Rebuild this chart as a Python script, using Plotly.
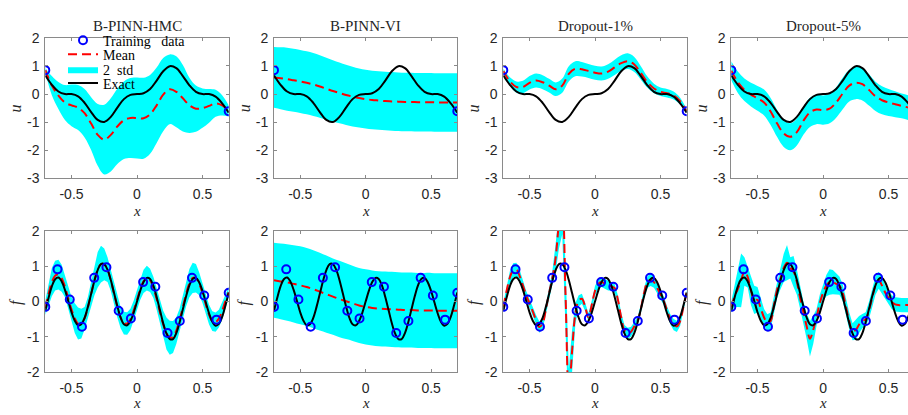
import plotly.graph_objects as go

W, H = 908, 415

# ---------------------------------------------------------------- grids
x_u = [-0.70, -0.65, -0.60, -0.55, -0.50, -0.45, -0.40, -0.35, -0.30, -0.25,
       -0.20, -0.15, -0.10, -0.05, 0.00, 0.05, 0.10, 0.15, 0.20, 0.25,
       0.30, 0.35, 0.40, 0.45, 0.50, 0.55, 0.60, 0.65, 0.70]

x_f = [-0.700, -0.675, -0.650, -0.625, -0.600, -0.575, -0.550, -0.525, -0.500, -0.475,
       -0.450, -0.425, -0.400, -0.375, -0.350, -0.325, -0.300, -0.275, -0.250, -0.225,
       -0.200, -0.175, -0.150, -0.125, -0.100, -0.075, -0.050, -0.025, 0.000, 0.025,
       0.050, 0.075, 0.100, 0.125, 0.150, 0.175, 0.200, 0.225, 0.250, 0.275,
       0.300, 0.325, 0.350, 0.375, 0.400, 0.425, 0.450, 0.475, 0.500, 0.525,
       0.550, 0.575, 0.600, 0.625, 0.650, 0.675, 0.700]

# ---------------------------------------------------------------- reference solution
u_exact = [0.66, 0.33, 0.09, 0.00, 0.00, -0.08, -0.31, -0.64, -0.92, -0.99,
           -0.81, -0.48, -0.18, -0.03, 0.00, 0.03, 0.18, 0.48, 0.81, 0.99,
           0.92, 0.64, 0.31, 0.08, 0.00, 0.00, -0.09, -0.33, -0.66]

f_exact = [-0.26, 0.11, 0.43, 0.63, 0.68, 0.57, 0.33, 0.02, -0.30, -0.54,
           -0.67, -0.64, -0.46, -0.15, 0.22, 0.59, 0.89, 1.06, 1.06, 0.90,
           0.61, 0.24, -0.13, -0.45, -0.64, -0.67, -0.55, -0.31, 0.00, 0.31,
           0.55, 0.67, 0.64, 0.45, 0.13, -0.24, -0.61, -0.90, -1.06, -1.06,
           -0.89, -0.59, -0.22, 0.15, 0.46, 0.64, 0.67, 0.54, 0.30, -0.02,
           -0.33, -0.57, -0.68, -0.63, -0.43, -0.11, 0.26]

# ---------------------------------------------------------------- noisy training data
x_bc = [-0.7, 0.7]
u_bc = [0.85, -0.61]

x_obs = [-0.7, -0.6067, -0.5133, -0.42, -0.3267, -0.2333, -0.14, -0.0467,
         0.0467, 0.14, 0.2333, 0.3267, 0.42, 0.5133, 0.6067, 0.7]
f_obs = [-0.15, 0.91, 0.06, -0.71, 0.67, 0.97, -0.26, -0.48,
         0.55, 0.42, -0.89, -0.55, 0.67, 0.17, -0.51, 0.25]

# ---------------------------------------------------------------- predictions: u
hmc_u_mean = [0.85, 0.30, -0.05, -0.30, -0.40, -0.48, -0.68, -1.05, -1.45, -1.62,
              -1.45, -1.15, -0.93, -0.85, -0.85, -0.86, -0.72, -0.40, -0.02, 0.17,
              0.08, -0.15, -0.40, -0.52, -0.50, -0.42, -0.33, -0.40, -0.60]
hmc_u_std = [0.04, 0.17, 0.24, 0.31, 0.37, 0.40, 0.43, 0.47, 0.55, 0.62,
             0.65, 0.67, 0.69, 0.71, 0.72, 0.72, 0.70, 0.67, 0.65, 0.62,
             0.63, 0.59, 0.49, 0.41, 0.35, 0.30, 0.24, 0.18, 0.10]

vi_u_mean = [0.59, 0.56, 0.53, 0.49, 0.45, 0.40, 0.34, 0.27, 0.19, 0.11,
             0.04, -0.03, -0.09, -0.14, -0.18, -0.21, -0.23, -0.25, -0.26, -0.27,
             -0.28, -0.28, -0.29, -0.29, -0.29, -0.30, -0.30, -0.30, -0.30]
vi_u_std = [0.54, 0.55, 0.56, 0.56, 0.56, 0.56, 0.56, 0.555, 0.55, 0.545,
            0.54, 0.535, 0.53, 0.525, 0.52, 0.52, 0.52, 0.52, 0.52, 0.52,
            0.52, 0.52, 0.52, 0.52, 0.52, 0.52, 0.52, 0.52, 0.52]

d1_u_mean = [0.82, 0.45, 0.25, 0.25, 0.40, 0.48, 0.42, 0.30, 0.17, 0.30,
             0.72, 0.90, 0.88, 0.82, 0.76, 0.73, 0.80, 0.95, 1.10, 1.17,
             1.05, 0.75, 0.42, 0.20, 0.08, 0.03, -0.05, -0.25, -0.60]
d1_u_std = [0.04, 0.075, 0.10, 0.11, 0.12, 0.125, 0.125, 0.12, 0.12, 0.125,
            0.135, 0.135, 0.13, 0.125, 0.125, 0.125, 0.13, 0.135, 0.14, 0.14,
            0.135, 0.12, 0.10, 0.085, 0.075, 0.075, 0.07, 0.06, 0.03]

d5_u_mean = [0.83, 0.42, 0.15, -0.02, -0.15, -0.30, -0.62, -1.05, -1.40, -1.52,
             -1.35, -0.95, -0.65, -0.55, -0.57, -0.52, -0.30, 0.02, 0.30, 0.40,
             0.35, 0.15, -0.08, -0.22, -0.30, -0.36, -0.42, -0.48, -0.55]
d5_u_std = [0.17, 0.19, 0.20, 0.21, 0.22, 0.23, 0.24, 0.24, 0.24, 0.24,
            0.24, 0.25, 0.26, 0.26, 0.26, 0.26, 0.27, 0.28, 0.28, 0.29,
            0.29, 0.28, 0.26, 0.25, 0.24, 0.23, 0.22, 0.22, 0.22]

# ---------------------------------------------------------------- predictions: f
hmc_f_mean = [-0.18, 0.22, 0.55, 0.73, 0.76, 0.66, 0.42, 0.10, -0.22, -0.47,
              -0.62, -0.62, -0.47, -0.17, 0.22, 0.60, 0.90, 1.06, 1.05, 0.90,
              0.60, 0.22, -0.15, -0.45, -0.61, -0.62, -0.50, -0.25, 0.05, 0.35,
              0.57, 0.66, 0.60, 0.40, 0.07, -0.30, -0.64, -0.90, -1.02, -1.00,
              -0.82, -0.52, -0.15, 0.22, 0.52, 0.67, 0.66, 0.50, 0.24, -0.08,
              -0.37, -0.55, -0.58, -0.48, -0.26, 0.02, 0.26]
hmc_f_std = [0.10, 0.15, 0.20, 0.21, 0.21, 0.19, 0.15, 0.15, 0.175, 0.21,
             0.225, 0.21, 0.16, 0.15, 0.175, 0.21, 0.25, 0.26, 0.225, 0.175,
             0.15, 0.15, 0.15, 0.15, 0.16, 0.16, 0.15, 0.14, 0.14, 0.15,
             0.165, 0.175, 0.165, 0.15, 0.15, 0.16, 0.19, 0.225, 0.24, 0.225,
             0.19, 0.16, 0.16, 0.175, 0.20, 0.215, 0.20, 0.16, 0.14, 0.14,
             0.14, 0.14, 0.135, 0.125, 0.125, 0.11, 0.075]

vi_f_mean = [0.60, 0.57, 0.54, 0.50, 0.46, 0.41, 0.35, 0.28, 0.21, 0.14,
             0.07, 0.01, -0.05, -0.11, -0.15, -0.18, -0.20, -0.21, -0.22, -0.23,
             -0.24, -0.24, -0.25, -0.25, -0.25, -0.26, -0.26, -0.26, -0.26]
vi_f_std = [0.53, 0.535, 0.54, 0.545, 0.55, 0.55, 0.55, 0.55, 0.545, 0.54,
            0.54, 0.535, 0.53, 0.53, 0.53, 0.53, 0.53, 0.53, 0.53, 0.53,
            0.53, 0.53, 0.53, 0.53, 0.53, 0.53, 0.53, 0.53, 0.53]

d1_f_mean = [-0.15, 0.30, 0.68, 0.88, 0.90, 0.72, 0.45, 0.18, -0.05, -0.28,
             -0.52, -0.72, -0.62, -0.22, 0.25, 0.68, 1.25, 2.20, 2.70, 0.20,
             -2.70, -1.40, -0.35, 0.02, 0.08, -0.15, -0.45, -0.10, 0.30, 0.50,
             0.55, 0.50, 0.45, 0.43, 0.38, 0.05, -0.45, -0.82, -0.90, -0.85,
             -0.70, -0.55, -0.20, 0.25, 0.55, 0.62, 0.55, 0.38, 0.20, 0.02,
             -0.25, -0.50, -0.65, -0.70, -0.55, -0.15, 0.25]
d1_f_std = [0.05, 0.07, 0.09, 0.10, 0.10, 0.09, 0.07, 0.06, 0.06, 0.06,
            0.07, 0.08, 0.08, 0.07, 0.07, 0.10, 0.20, 0.35, 0.40, 0.40,
            0.40, 0.30, 0.15, 0.08, 0.07, 0.06, 0.06, 0.06, 0.07, 0.07,
            0.07, 0.07, 0.07, 0.06, 0.06, 0.06, 0.07, 0.08, 0.08, 0.07,
            0.06, 0.06, 0.06, 0.07, 0.08, 0.09, 0.08, 0.07, 0.06, 0.06,
            0.06, 0.07, 0.08, 0.08, 0.07, 0.05, 0.04]

d5_f_mean = [-0.15, 0.15, 0.35, 0.60, 0.85, 0.70, 0.30, 0.05, 0.05, -0.20,
             -0.45, -0.60, -0.55, -0.10, 0.35, 0.65, 0.95, 1.10, 0.95, 0.85,
             0.55, 0.10, -0.30, -0.70, -1.05, -0.80, -0.45, -0.05, 0.25, 0.45,
             0.55, 0.55, 0.50, 0.45, 0.25, -0.15, -0.55, -0.85, -0.80, -0.65,
             -0.55, -0.50, -0.25, 0.10, 0.45, 0.60, 0.45, 0.25, 0.10, -0.02,
             -0.08, -0.10, -0.10, -0.10, -0.10, -0.10, -0.10]
d5_f_std = [0.08, 0.15, 0.25, 0.38, 0.20, 0.15, 0.20, 0.20, 0.18, 0.15,
            0.12, 0.12, 0.12, 0.12, 0.12, 0.15, 0.20, 0.25, 0.15, 0.22,
            0.18, 0.15, 0.15, 0.18, 0.25, 0.20, 0.12, 0.12, 0.12, 0.15,
            0.18, 0.17, 0.15, 0.13, 0.12, 0.12, 0.12, 0.12, 0.14, 0.12,
            0.10, 0.10, 0.12, 0.13, 0.13, 0.12, 0.12, 0.10, 0.10, 0.10,
            0.10, 0.10, 0.10, 0.10, 0.10, 0.10, 0.10]

# ---------------------------------------------------------------- axes / labels
titles = ["B-PINN-HMC", "B-PINN-VI", "Dropout-1%", "Dropout-5%"]
x_ticks = [-0.5, 0, 0.5]
x_ticktext = ["-0.5", "0", "0.5"]
u_ticks = [-3, -2, -1, 0, 1, 2]
f_ticks = [-2, -1, 0, 1, 2]

# pixel boxes of the plotting areas
col_px = [(45.3, 228.7), (274.0, 457.3), (503.3, 686.7), (731.3, 908.0)]
row_px = [(31.0, 177.3), (231.7, 379.0)]
x_full = [-0.7, 0.7]
x_cut = [-0.7, -0.7 + 1.4 * (908.0 - 731.3) / 183.5]   # last column runs off the page

panels = [
    # row 0: solution u
    dict(xb=x_u, mean=hmc_u_mean, std=hmc_u_std, shape="spline"),
    dict(xb=x_u, mean=vi_u_mean, std=vi_u_std, shape="spline"),
    dict(xb=x_u, mean=d1_u_mean, std=d1_u_std, shape="spline"),
    dict(xb=x_u, mean=d5_u_mean, std=d5_u_std, shape="spline"),
    # row 1: source term f
    dict(xb=x_f, mean=hmc_f_mean, std=hmc_f_std, shape="linear"),
    dict(xb=x_u, mean=vi_f_mean, std=vi_f_std, shape="spline"),
    dict(xb=x_f, mean=d1_f_mean, std=d1_f_std, shape="linear"),
    dict(xb=x_f, mean=d5_f_mean, std=d5_f_std, shape="linear"),
]

CYAN = "#00ffff"
RED = "#ff0000"
BLUE = "#0000ff"
AXIS = "#8a8a8a"
TICKFONT = dict(family="Liberation Sans", size=14, color="#262626")
SERIF = "Liberation Serif"

fig = go.Figure()
layout = dict(width=W, height=H, margin=dict(l=0, r=0, t=0, b=0),
              paper_bgcolor="white", plot_bgcolor="white", showlegend=True)

for i, p in enumerate(panels):
    row, col = divmod(i, 4)
    sfx = "" if i == 0 else str(i + 1)
    xa, ya = "x" + sfx, "y" + sfx
    first = i == 0
    lo = [m - 2 * s for m, s in zip(p["mean"], p["std"])]
    hi = [m + 2 * s for m, s in zip(p["mean"], p["std"])]

    if row == 0:
        x_line, y_line = x_u, u_exact
        x_pts, y_pts = x_bc, u_bc
    else:
        x_line, y_line = x_f, f_exact
        x_pts, y_pts = x_obs, f_obs

    fig.add_trace(go.Scatter(x=p["xb"], y=lo, mode="lines",
                             line=dict(width=0, shape=p["shape"]),
                             showlegend=False, hoverinfo="skip", xaxis=xa, yaxis=ya))
    fig.add_trace(go.Scatter(x=p["xb"], y=hi, mode="lines", fill="tonexty",
                             fillcolor=CYAN, line=dict(width=0, shape=p["shape"]),
                             name="2\u00a0\u00a0std", legend="legend3",
                             showlegend=first, xaxis=xa, yaxis=ya))
    fig.add_trace(go.Scatter(x=p["xb"], y=p["mean"], mode="lines",
                             line=dict(color=RED, width=2, dash="9px,5px", shape="spline"),
                             name="Mean", legend="legend2",
                             showlegend=first, xaxis=xa, yaxis=ya))
    fig.add_trace(go.Scatter(x=x_line, y=y_line, mode="lines",
                             line=dict(color="black", width=2, shape="spline"),
                             name="Exact", legend="legend4",
                             showlegend=first, xaxis=xa, yaxis=ya))
    fig.add_trace(go.Scatter(x=x_pts, y=y_pts, mode="markers",
                             marker=dict(symbol="circle-open", size=8, color=BLUE,
                                         line=dict(width=2, color=BLUE)),
                             name="Training\u00a0\u00a0\u00a0data", legend="legend",
                             showlegend=first, xaxis=xa, yaxis=ya))

    x0, x1 = col_px[col]
    y0, y1 = row_px[row]
    last_col = col == 3
    layout["xaxis" + sfx] = dict(
        domain=[x0 / W, x1 / W], anchor=ya,
        range=x_cut if last_col else x_full,
        tickvals=x_ticks, ticktext=x_ticktext,
        showline=True, linecolor=AXIS, linewidth=1, mirror="ticks",
        ticks="inside", ticklen=3, tickcolor=AXIS, ticklabelstandoff=3,
        showgrid=False, zeroline=False, tickfont=TICKFONT)
    yt = u_ticks if row == 0 else f_ticks
    layout["yaxis" + sfx] = dict(
        domain=[1 - y1 / H, 1 - y0 / H], anchor=xa,
        range=[yt[0], yt[-1]], tickvals=yt, ticktext=[str(v) for v in yt],
        showline=True, linecolor=AXIS, linewidth=1,
        mirror=False if last_col else "ticks",
        ticks="inside", ticklen=3, tickcolor=AXIS, ticklabelstandoff=2,
        showgrid=False, zeroline=False, tickfont=TICKFONT)

# annotations: titles, axis labels
ann = []
centers = [(a + b) / 2 for a, b in col_px[:3]] + [731.3 + 183.5 / 2]
for c, t in zip(centers, titles):
    ann.append(dict(x=c / W, y=1 - 19 / H, xref="paper", yref="paper", text=t,
                    showarrow=False, xanchor="center", yanchor="middle", borderpad=0,
                    font=dict(family=SERIF, size=15, color="#262626")))
for row, (lab, ypx) in enumerate([("u", 211), ("f", 411)]):
    yc = (row_px[row][0] + row_px[row][1]) / 2
    for col in range(4):
        ann.append(dict(x=centers[col] / W, y=1 - ypx / H, xref="paper", yref="paper",
                        text="<i>x</i>", showarrow=False, xanchor="center",
                        yanchor="middle", borderpad=0,
                        font=dict(family=SERIF, size=15, color="#262626")))
        ann.append(dict(x=(col_px[col][0] - 30) / W, y=1 - yc / H, xref="paper",
                        yref="paper", text="<i>%s</i>" % lab, textangle=-90,
                        showarrow=False, xanchor="center", yanchor="middle",
                        font=dict(family=SERIF, size=16, color="#262626")))
layout["annotations"] = ann

# one single-entry legend per item so the rows sit tightly together
leg_font = dict(family=SERIF, size=14, color="black")
for key, ypx in [("legend", 34), ("legend2", 48.5), ("legend3", 64), ("legend4", 78.5)]:
    layout[key] = dict(x=63 / W, xanchor="left", y=1 - ypx / H, yanchor="middle",
                       bgcolor="rgba(0,0,0,0)", borderwidth=0, font=leg_font,
                       itemwidth=30)

fig.update_layout(**layout)
fig.write_html("out.html")
